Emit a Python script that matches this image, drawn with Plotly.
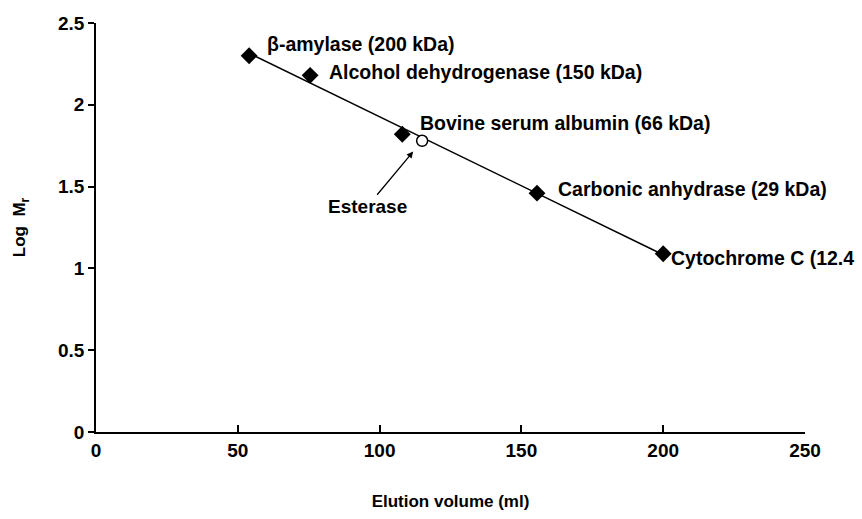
import numpy as np
import plotly.graph_objects as go

# Standards (elution volume in ml, log Mr in kDa)
proteins = ["β-amylase (200 kDa)", "Alcohol dehydrogenase (150 kDa)",
            "Bovine serum albumin (66 kDa)", "Carbonic anhydrase (29 kDa)",
            "Cytochrome C (12.4"]
elution_ml = [54.0, 75.5, 108.0, 155.5, 200.0]
log_mr = [2.30, 2.18, 1.82, 1.46, 1.09]

# Unknown
unknown_name = ["Esterase"]
unknown_elution = [115.0]
unknown_log_mr = [1.78]

x_ticks = [0, 50, 100, 150, 200, 250]
y_ticks = [0, 0.5, 1, 1.5, 2, 2.5]
y_tick_text = ["0", "0.5", "1", "1.5", "2", "2.5"]

FONT = "Liberation Sans, Arial, sans-serif"

# linear trend line through standards
slope, intercept = np.polyfit(elution_ml, log_mr, 1)
trend_x = [min(elution_ml), max(elution_ml)]
trend_y = [slope * v + intercept for v in trend_x]

fig = go.Figure()
fig.add_trace(go.Scatter(x=trend_x, y=trend_y, mode="lines",
                         line=dict(color="black", width=1.5), showlegend=False,
                         hoverinfo="skip"))
fig.add_trace(go.Scatter(x=elution_ml, y=log_mr, mode="markers",
                         marker=dict(symbol="diamond", size=13, color="black"),
                         showlegend=False, cliponaxis=False))
fig.add_trace(go.Scatter(x=unknown_elution, y=unknown_log_mr, mode="markers",
                         marker=dict(symbol="circle", size=11, color="white",
                                     line=dict(color="black", width=1.5)),
                         showlegend=False, cliponaxis=False))

# label offsets in pixels (style, not data)
label_shift = [(16, 12), (17, 3), (16, 11), (19, 4), (6, -4)]
for name, xv, yv, (dx, dy) in zip(proteins, elution_ml, log_mr, label_shift):
    fig.add_annotation(x=xv, y=yv, text=name, showarrow=False,
                       xanchor="left", yanchor="middle", xshift=dx, yshift=dy,
                       font=dict(family=FONT, size=19.5, color="black", weight="bold"))

fig.add_annotation(x=unknown_elution[0], y=unknown_log_mr[0],
                   text=unknown_name[0], showarrow=True,
                   arrowhead=2, arrowsize=1, arrowwidth=1.3, arrowcolor="black",
                   ax=-55, ay=66, standoff=14,
                   font=dict(family=FONT, size=19, color="black", weight="bold"))

fig.update_layout(
    width=862, height=519,
    margin=dict(l=96, r=57, t=23, b=87),
    paper_bgcolor="white", plot_bgcolor="white",
    font=dict(family=FONT, color="black"),
    xaxis=dict(range=[0, 250], tickvals=x_ticks, ticks="inside", ticklen=7,
               tickcolor="black", tickwidth=1.5,
               showline=True, linecolor="black", linewidth=1.5,
               showgrid=False, zeroline=False,
               tickfont=dict(family=FONT, size=19, color="black", weight="bold"),
               title=dict(text="Elution volume (ml)", standoff=36,
                          font=dict(family=FONT, size=17, color="black", weight="bold"))),
    yaxis=dict(range=[0, 2.5], tickvals=y_ticks, ticktext=y_tick_text,
               ticks="outside", ticklen=6, tickcolor="black", tickwidth=1.5,
               showline=True, linecolor="black", linewidth=1.5,
               showgrid=False, zeroline=False,
               tickfont=dict(family=FONT, size=19, color="black", weight="bold"),
               title=dict(text="Log  M<sub>r</sub>", standoff=28,
                          font=dict(family=FONT, size=17, color="black", weight="bold"))),
)

fig.write_html("out.html")
